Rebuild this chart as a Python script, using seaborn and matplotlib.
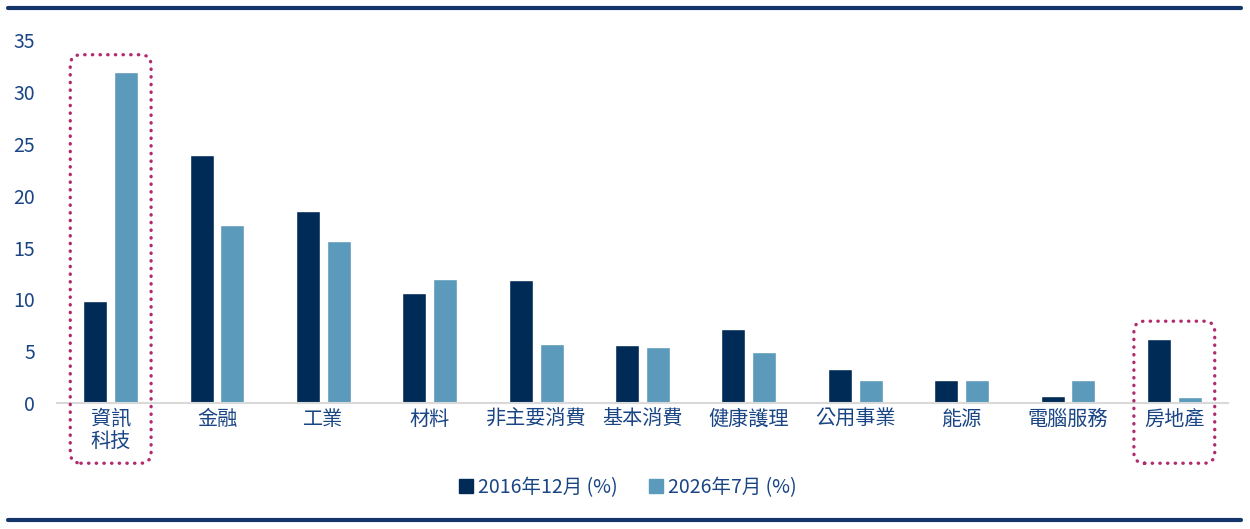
import matplotlib
matplotlib.use("Agg")
import matplotlib.pyplot as plt
from matplotlib.patches import FancyBboxPatch
from matplotlib.lines import Line2D
import seaborn as sns
import pandas as pd

# sector weights
sectors = ["資訊\n科技", "金融", "工業", "材料", "非主要消費", "基本消費",
           "健康護理", "公用事業", "能源", "電腦服務", "房地產"]
weights_2016 = [9.8, 23.9, 18.5, 10.6, 11.9, 5.6, 7.1, 3.25, 2.2, 0.65, 6.2]
weights_2026 = [31.9, 17.2, 15.6, 12.0, 5.7, 5.45, 4.9, 2.2, 2.2, 2.2, 0.55]
series_names = ["2016年12月 (%)", "2026年7月 (%)"]
yticks = [0, 5, 10, 15, 20, 25, 30, 35]

# sectors that get a dotted highlight box
highlighted = ["資訊\n科技", "房地產"]

dark_blue = "#002b57"
light_blue = "#5b9aba"
text_blue = "#1a4585"
box_red = "#b02a6c"

df = pd.DataFrame({
    "sector": sectors * 2,
    "weight": weights_2016 + weights_2026,
    "period": [series_names[0]] * len(sectors) + [series_names[1]] * len(sectors),
})

sns.set_style("white")
plt.rcParams["font.family"] = ["Noto Sans CJK TC", "DejaVu Sans"]
plt.rcParams["font.weight"] = "medium"

fig = plt.figure(figsize=(12.5, 5.29), dpi=100)
ax = fig.add_axes([0.046, 0.238, 0.936, 0.686])

sns.barplot(data=df, x="sector", y="weight", hue="period", order=sectors,
            hue_order=series_names, palette=[dark_blue, light_blue],
            width=0.58, gap=0.22, ax=ax, legend=False, saturation=1)

ax.set_xlim(-0.5, len(sectors) - 0.5)
ax.set_ylim(0, 35)
ax.set_yticks(yticks)
ax.set_xlabel("")
ax.set_ylabel("")
for s in ["top", "right", "left"]:
    ax.spines[s].set_visible(False)
ax.spines["bottom"].set_color("#d9d9d9")
ax.spines["bottom"].set_linewidth(1.5)
ax.tick_params(axis="y", length=0, pad=16, labelsize=14, labelcolor=text_blue)
ax.tick_params(axis="x", length=0, pad=4, labelsize=14.5, labelcolor=text_blue)
for lbl in ax.get_xticklabels():
    lbl.set_linespacing(1.05)

# dotted rounded boxes around highlighted sectors
for name in highlighted:
    i = sectors.index(name)
    top = max(weights_2016[i], weights_2026[i]) + 1.3
    box = FancyBboxPatch((i - 0.34, -5.4), 0.68, top + 5.4,
                         boxstyle="round,pad=0.04,rounding_size=0.1",
                         mutation_aspect=10, fill=False, edgecolor=box_red,
                         linestyle=(0, (0.1, 2.2)), linewidth=2.4,
                         clip_on=False, zorder=5)
    box.set_capstyle("round")
    ax.add_patch(box)

# legend with square handles
handles = [Line2D([], [], marker="s", linestyle="", markersize=10.5,
                  color=c) for c in (dark_blue, light_blue)]
fig.legend(handles, series_names, loc="center", bbox_to_anchor=(0.502, 0.079),
           ncol=2, frameon=False, fontsize=14, labelcolor=text_blue,
           handletextpad=0.2, columnspacing=1.6, handlelength=0.8)

# navy rules at top and bottom
for y in (0.985, 0.017):
    fig.add_artist(Line2D([0.006, 0.993], [y, y], transform=fig.transFigure,
                          color="#14366b", linewidth=3))

fig.savefig("out.png", dpi=100)
